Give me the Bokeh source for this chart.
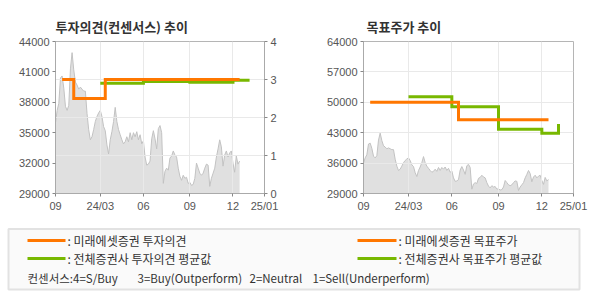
from bokeh.plotting import figure
from bokeh.models import Range1d, LinearAxis, FixedTicker, Grid
from bokeh.layouts import column, row
from bokeh.core.properties import value
from bokeh.embed import file_html
from bokeh.resources import INLINE

# ---------------- data ----------------
TICK_DAYS = [0, 27, 53, 81, 107, 126]
TICK_LABELS = ["09", "24/03", "06", "09", "12", "25/01"]

PRICE = [36000, 37200, 37900, 40400, 40600, 39400, 37600, 37200, 37700, 41300,
         42900, 41200, 40000, 39700, 39300, 39500, 39300, 39100, 39100, 36900,
         35300, 34300, 34600, 35300, 36100, 36600, 36950, 37200, 36600, 35600,
         35200, 33800, 32900, 34300, 35100, 36100, 37500, 36100, 35300, 34800,
         34300, 33900, 34100, 34600, 34100, 35000, 34300, 35000, 34600, 35100,
         34300, 34800, 33900, 34200, 32600, 31800, 31900, 32200, 34400, 35200,
         34400, 33400, 35400, 35700, 35000, 30000, 31200, 31500, 31300, 32500,
         32700, 33200, 32800, 32600, 31500, 30700, 30300, 30800, 30500, 30600,
         30000, 30100, 29800, 29900, 30500, 32000, 31500, 31000, 30800, 31000,
         31500, 31900, 31800, 29700, 30500, 31000, 31500, 32600, 33400, 34300,
         33600, 31700, 32800, 33200, 32600, 33000, 33200, 32000, 31100, 32700,
         31900, 32200]

OPINION_TICKS = [0, 1, 2, 3, 4]
LEFT_PRICE_TICKS = [29000, 32000, 35000, 38000, 41000, 44000]
RIGHT_PRICE_TICKS = [29000, 36000, 43000, 50000, 57000, 64000]

MIRAE_OPINION_DAYS = [4, 11, 30]
MIRAE_OPINION = [3.0, 2.5, 3.0]
AVG_OPINION_DAYS = [27, 53, 81, 107]
AVG_OPINION = [2.90, 2.95, 2.93, 2.98]

MIRAE_TARGET_DAYS = [4, 57]
MIRAE_TARGET = [50000, 46000]
AVG_TARGET_DAYS = [27, 53, 81, 107, 117]
AVG_TARGET = [51300, 49000, 43800, 42900, 45000]

MIRAE_END = 111
AVG_END = 117

ORANGE = "#ff7700"
GREEN = "#78b800"
FONT = "Noto Sans CJK KR"
TICK_FONT = "Liberation Sans"


def step_path(days, vals, end):
    xs, ys = [], []
    for i, (d, v) in enumerate(zip(days, vals)):
        nxt = days[i + 1] if i + 1 < len(days) else end
        xs += [d, nxt]
        ys += [v, v]
    return xs, ys


def style_axis(ax):
    ax.axis_line_color = "#aaaaaa"
    ax.major_tick_line_color = "#888888"
    ax.major_tick_out = 3
    ax.major_tick_in = 0
    ax.minor_tick_out = 0
    ax.minor_tick_in = 0
    ax.major_label_text_font = TICK_FONT
    ax.major_label_text_font_size = "11px"
    ax.major_label_text_color = "#555555"
    ax.major_label_standoff = 3


def make_fig(left, right, top, y0, y1, yticks, title, toff):
    p = figure(width=295, height=220, x_range=Range1d(0, 126),
               y_range=Range1d(y0, y1), output_backend="svg",
               toolbar_location=None, min_border_left=left,
               min_border_right=right, min_border_top=top,
               min_border_bottom=27, outline_line_color="#b5b5b5")
    p.title.text = title
    p.title.text_font = FONT
    p.title.text_font_size = "13px"
    p.title.text_font_style = "bold"
    p.title.text_color = "#333333"
    p.title.align = "left"
    p.title.offset = toff
    p.title.standoff = 12
    xa = p.xaxis[0]
    xa.ticker = FixedTicker(ticks=TICK_DAYS)
    xa.major_label_overrides = {d: l for d, l in zip(TICK_DAYS, TICK_LABELS)}
    style_axis(xa)
    ya = p.yaxis[0]
    ya.ticker = FixedTicker(ticks=yticks)
    style_axis(ya)
    p.xgrid.grid_line_color = "#e9e9e9"
    p.ygrid.grid_line_color = "#e9e9e9"
    idx = list(range(len(PRICE)))
    p.varea(x=idx, y1=[y0] * len(PRICE), y2=PRICE, fill_color="#e0e0e0",
            level="image")
    p.line(idx, PRICE, line_color="#c2c2c2", line_width=1, level="image")
    return p


# ---------- left chart: investment opinion ----------
f1 = make_fig(55, 31, 41, 29000, 44000, LEFT_PRICE_TICKS,
              "투자의견(컨센서스) 추이", 0)
f1.extra_y_ranges = {"op": Range1d(0, 4)}
ax2 = LinearAxis(y_range_name="op", ticker=FixedTicker(ticks=OPINION_TICKS))
style_axis(ax2)
f1.add_layout(ax2, "right")
f1.ygrid.visible = False
f1.add_layout(Grid(dimension=1, ticker=FixedTicker(ticks=OPINION_TICKS),
                   y_range_name="op", grid_line_color="#e9e9e9"))

gx, gy = step_path(AVG_OPINION_DAYS, AVG_OPINION, AVG_END)
f1.line(gx, gy, y_range_name="op", line_color=GREEN, line_width=3,
        line_join="miter")
ox, oy = step_path(MIRAE_OPINION_DAYS, MIRAE_OPINION, MIRAE_END)
f1.line(ox, oy, y_range_name="op", line_color=ORANGE, line_width=3,
        line_join="miter")

# ---------- right chart: target price ----------
f2 = make_fig(68, 17, 39, 29000, 64000, RIGHT_PRICE_TICKS, "목표주가 추이", 3)
gx, gy = step_path(AVG_TARGET_DAYS, AVG_TARGET, AVG_END)
f2.line(gx, gy, line_color=GREEN, line_width=3, line_join="miter")
ox, oy = step_path(MIRAE_TARGET_DAYS, MIRAE_TARGET, MIRAE_END)
f2.line(ox, oy, line_color=ORANGE, line_width=3, line_join="miter")

# ---------- legend ----------
f3 = figure(width=590, height=80, x_range=Range1d(0, 590),
            y_range=Range1d(300, 220), x_axis_type=None, y_axis_type=None,
            min_border=0, min_border_left=0, min_border_right=0,
            min_border_top=0, min_border_bottom=0,
            toolbar_location=None, output_backend="svg",
            outline_line_color=None)
f3.grid.visible = False
f3.quad(left=8, right=579, top=228.5, bottom=289, fill_color="#fafafa",
        line_color="#e2e2e2", line_width=2)
f3.segment(x0=[27, 27, 357, 357], x1=[65, 65, 396, 396],
           y0=[240, 258, 240, 258], y1=[240, 258, 240, 258],
           line_color=[ORANGE, GREEN, ORANGE, GREEN], line_width=3)
f3.text(x=[67, 67, 398, 398], y=[240, 258, 240, 258],
        text=[": 미래에셋증권 투자의견", ": 전체증권사 투자의견 평균값",
              ": 미래에셋증권 목표주가", ": 전체증권사 목표주가 평균값"],
        text_font=value(FONT), text_font_size="12px",
        text_baseline="middle", text_color="#333333")
f3.text(x=[27, 137, 249, 312], y=[277, 277, 277, 277],
        text=["컨센서스:4=S/Buy", "3=Buy(Outperform)", "2=Neutral",
              "1=Sell(Underperform)"],
        text_font=value(FONT), text_font_size="11.5px",
        text_baseline="middle", text_color="#333333")

layout = column(row(f1, f2), f3)
open("out.html", "w").write(file_html(layout, INLINE))
